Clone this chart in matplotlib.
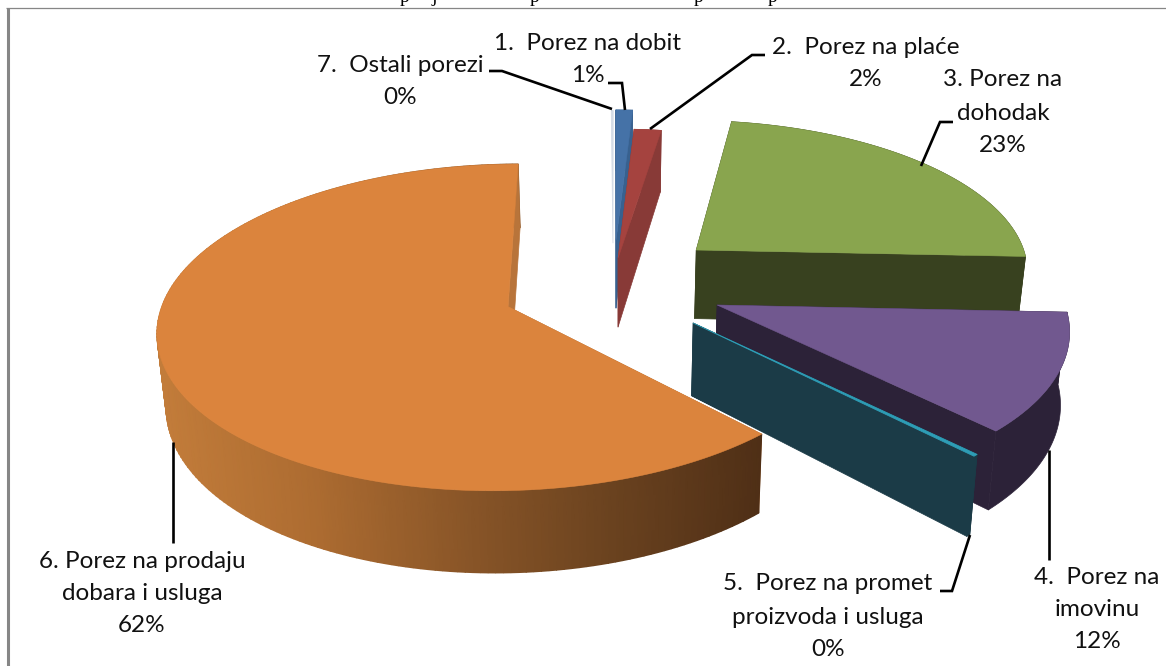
import numpy as np
import matplotlib
matplotlib.use("Agg")
import matplotlib.pyplot as plt
from matplotlib.patches import Polygon
from matplotlib.colors import LinearSegmentedColormap

# ---- data (share of each tax, %; labels show the rounded figures)
categories = ["1. Porez na dobit", "2. Porez na plaće", "3. Porez na dohodak",
              "4. Porez na imovinu", "5. Porez na promet proizvoda i usluga",
              "6. Porez na prodaju dobara i usluga", "7. Ostali porezi"]
shares = [0.9, 1.5, 23.3, 11.9, 0.2, 62.1, 0.1]
label_pct = ["1%", "2%", "23%", "12%", "0%", "62%", "0%"]

# ---- style of each slice
top_colors = ["#4572A7", "#A5433F", "#89A54E", "#71588F", "#2E9DB6", "#DB843D", "#D5DCE6"]
side_colors = ["#38618F", "#883A37", "#38411F", "#2C2238", "#1B3B47", "#B8743A", "#FFFFFF"]
offset_u = [0.003, 0.009, 0.237, 0.285, 0.215, -0.298, -0.006]
offset_v = [0.339, 0.221, 0.273, -0.073, -0.180, -0.083, 0.320]
radius = [0.976, 0.936, 0.955, 0.97, 0.98, 0.965, 0.99]
draw_order = [6, 0, 1, 2, 3, 4, 5]

# ---- projection of the tilted disc
CX, CY, A, B, K, DEPTH, CONVERGE = 615, 293, 355, 163, 0.13, 71, 0.98


def project(u, v, lower=False):
    u, v = np.asarray(u, float), np.asarray(v, float)
    s = 1 / (1 + K * v)
    x, y = A * u * s, -B * v * s
    if lower:
        x, y = x * CONVERGE, y + DEPTH * s
    return CX + x, CY + y


def quad(ax, p, color, z, lw=0.5):
    ax.add_patch(Polygon(p, closed=True, facecolor=color, edgecolor=color,
                         linewidth=lw, zorder=z, joinstyle="round"))


plt.rcParams["font.family"] = ["Lato", "DejaVu Sans"]
fig = plt.figure(figsize=(11.66, 6.66), dpi=100, facecolor="white")
ax = fig.add_axes([0, 0, 1, 1])
ax.set_xlim(0, 1166)
ax.set_ylim(666, 0)
ax.axis("off")

# frame of the embedded chart
ax.plot([7.5, 7.5], [8, 666], color="#868686", lw=2.2, solid_capstyle="butt", zorder=1)
ax.plot([6, 1166], [8.3, 8.3], color="#868686", lw=0.9, solid_capstyle="butt", zorder=1)

orange_cmap = LinearSegmentedColormap.from_list(
    "side", ["#C27C3A", "#AD6C31", "#8A5628", "#6A421F", "#4F2F16"])

edges = np.concatenate([[0], np.cumsum(shares)]) / 100 * 2 * np.pi
z = 5
for i in draw_order:
    t = np.linspace(edges[i], edges[i + 1], 200)
    r = radius[i]
    u0, v0 = offset_u[i], offset_v[i]
    u = u0 + r * np.sin(t)
    v = v0 + r * np.cos(t)
    xt, yt = project(u, v)
    xb, yb = project(u, v, lower=True)
    ax0, ay0 = project(u0, v0)
    bx0, by0 = project(u0, v0, lower=True)
    # cut face at the start of the slice
    quad(ax, [(ax0, ay0), (xt[0], yt[0]), (xb[0], yb[0]), (bx0, by0)], side_colors[i], z)
    z += 1
    # outer wall
    if i == 5:
        frac = np.clip((xt - 160) / (765 - 160), 0, 1)
        ax.pcolormesh(np.vstack([xt, xb]), np.vstack([yt, yb]), np.vstack([frac, frac]),
                      cmap=orange_cmap, vmin=0, vmax=1, shading="gouraud", zorder=z)
    else:
        quad(ax, list(zip(xt, yt)) + list(zip(xb[::-1], yb[::-1])), side_colors[i], z)
    z += 1
    # cut face at the end of the slice
    quad(ax, [(ax0, ay0), (xt[-1], yt[-1]), (xb[-1], yb[-1]), (bx0, by0)], side_colors[i], z)
    z += 1
    # top face
    quad(ax, [(ax0, ay0)] + list(zip(xt, yt)), top_colors[i], z,
         lw=0.6 if shares[i] < 0.5 else 0.4)
    z += 1

# ---- leader lines
leaders = [
    ([608, 622, 625], [83, 83, 110]),
    ([765, 752, 650], [55, 55, 129]),
    ([953, 940, 921], [122, 122, 166]),
    ([1049, 1049], [450, 560]),
    ([940, 952, 970], [591, 591, 535]),
    ([172.5, 172.5], [442, 543]),
    ([489, 502, 612], [71, 71, 109]),
]
for lx, ly in leaders:
    ax.plot(lx, ly, color="black", lw=1.9, zorder=100, solid_joinstyle="miter",
            solid_capstyle="butt")

# ---- data labels
labels = [
    (588, [43, 75], ["1.  Porez na dobit", label_pct[0]]),
    (866, [47, 79], ["2.  Porez na plaće", label_pct[1]]),
    (1003, [80, 113, 145], ["3. Porez na", "dohodak", label_pct[2]]),
    (1097, [577, 609, 641], ["4.  Porez na", "imovinu", label_pct[3]]),
    (828, [584, 617, 650], ["5.  Porez na promet", "proizvoda i usluga", label_pct[4]]),
    (142, [561, 593, 626], ["6. Porez na prodaju", "dobara i usluga", label_pct[5]]),
    (400, [65, 97], ["7.  Ostali porezi", label_pct[6]]),
]
for cx, ys, lines in labels:
    for yy, line in zip(ys, lines):
        ax.text(cx, yy, line, ha="center", va="center", fontsize=17.5, color="#111111", zorder=110)

# ---- title of the page, cut off by the top edge of the picture: only descenders remain
for gx, glyph in zip([405, 434, 534, 699, 773], ["p", "j", "p", "p", "p"]):
    ax.text(gx, 1.6, glyph, ha="center", va="baseline", fontsize=14, color="black",
            family="Liberation Serif", zorder=110, clip_on=False)

fig.savefig("out.png", dpi=100, facecolor="white")
